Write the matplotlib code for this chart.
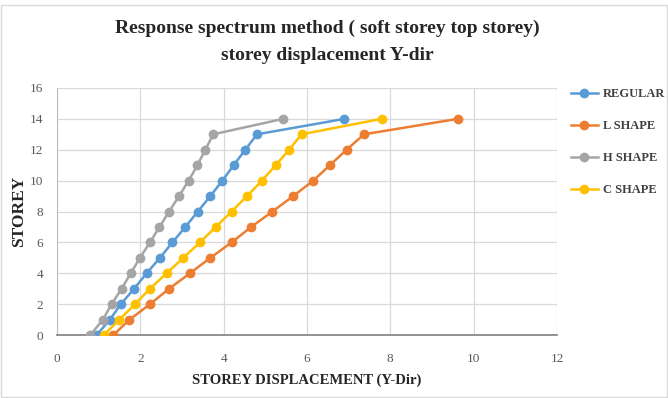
import matplotlib
matplotlib.use("Agg")
import matplotlib.pyplot as plt
from matplotlib.patches import Rectangle

# Storey levels and displacement per building shape (Y direction)
storeys = list(range(0, 15))
regular = [0.95, 1.27, 1.53, 1.85, 2.15, 2.47, 2.77, 3.08, 3.38, 3.68, 3.97, 4.24, 4.52, 4.80, 6.90]
l_shape = [1.35, 1.74, 2.23, 2.69, 3.19, 3.68, 4.19, 4.66, 5.17, 5.67, 6.15, 6.55, 6.95, 7.37, 9.62]
h_shape = [0.80, 1.10, 1.31, 1.55, 1.77, 1.99, 2.23, 2.46, 2.69, 2.93, 3.16, 3.37, 3.56, 3.75, 5.43]
c_shape = [1.12, 1.50, 1.87, 2.23, 2.63, 3.03, 3.43, 3.81, 4.19, 4.56, 4.92, 5.25, 5.57, 5.87, 7.79]

series_names = ["REGULAR", "L SHAPE", "H SHAPE", "C SHAPE"]
series_values = [regular, l_shape, h_shape, c_shape]
colors = ["#5B9BD5", "#ED7D31", "#A5A5A5", "#FFC000"]

x_ticks = [0, 2, 4, 6, 8, 10, 12]
y_ticks = [0, 2, 4, 6, 8, 10, 12, 14, 16]

serif = "Liberation Serif"

fig = plt.figure(figsize=(6.68, 3.98), dpi=100)
fig.patch.set_facecolor("white")
fig.add_artist(Rectangle((0.002, 0.002), 0.996, 0.985, transform=fig.transFigure,
                         fill=False, edgecolor="#D9D9D9", linewidth=1.0))

ax = fig.add_axes([0.0853, 0.158, 0.7485, 0.621])

for name, vals, col in zip(series_names, series_values, colors):
    ax.plot(vals, storeys, color=col, linewidth=1.8, marker="o", markersize=6,
            markerfacecolor=col, markeredgecolor=col, label=name, zorder=3)

ax.set_xlim(0, 12)
ax.set_ylim(0, 16)
ax.set_xticks(x_ticks)
ax.set_yticks(y_ticks)
ax.grid(True, color="#D9D9D9", linewidth=0.9)
ax.set_axisbelow(True)
for s in ["top", "right"]:
    ax.spines[s].set_visible(False)
ax.spines["left"].set_color("#BFBFBF")
ax.spines["bottom"].set_color("#7F7F7F")
ax.spines["bottom"].set_linewidth(1.2)
ax.tick_params(axis="x", length=0, pad=13, labelsize=9.5, labelcolor="#595959")
ax.tick_params(axis="y", length=0, pad=10, labelsize=9.5, labelcolor="#595959")
for lab in ax.get_xticklabels() + ax.get_yticklabels():
    lab.set_fontfamily(serif)

ax.set_xlabel("STOREY DISPLACEMENT (Y-Dir)", fontfamily=serif, fontweight="bold",
              fontsize=10.5, color="#262626", labelpad=6)
ax.set_ylabel("STOREY", fontfamily=serif, fontweight="bold", fontsize=12.5,
              color="#262626", labelpad=2)

fig.text(0.49, 0.928, "Response spectrum method ( soft storey top storey)",
         ha="center", va="center", fontfamily=serif, fontweight="bold",
         fontsize=14, color="#262626")
fig.text(0.49, 0.86, "storey displacement Y-dir", ha="center", va="center",
         fontfamily=serif, fontweight="bold", fontsize=14, color="#262626")

leg = ax.legend(loc="upper left", bbox_to_anchor=(1.005, 1.045), frameon=False,
                prop={"family": serif, "weight": "bold", "size": 9},
                labelspacing=1.6, handlelength=2.2, handletextpad=0.4,
                labelcolor="#404040")

fig.savefig("out.png", dpi=100, facecolor="white")
